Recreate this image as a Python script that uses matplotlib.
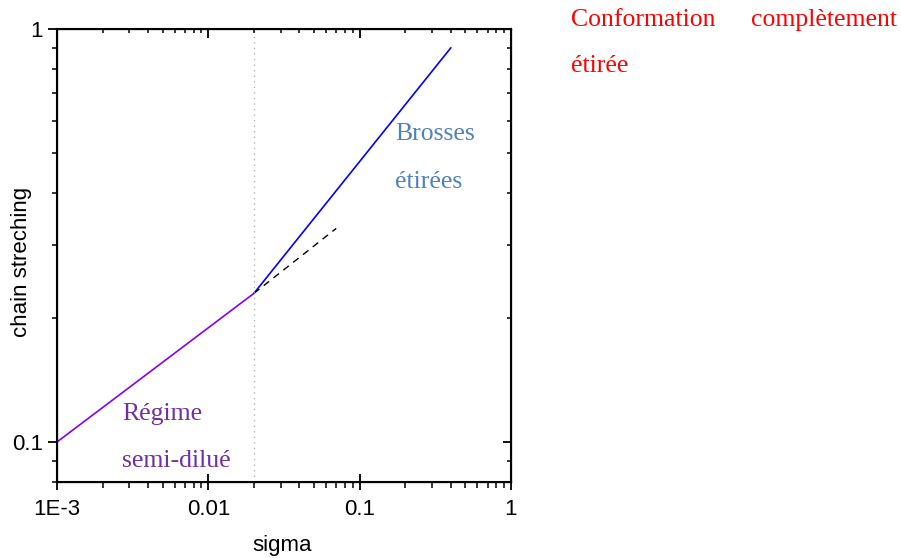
import matplotlib
matplotlib.use("Agg")
import matplotlib.pyplot as plt

regime_x = [1e-3, 0.02]
regime_y = [0.1, 0.229]
brush_x = [0.02, 0.4]
brush_y = [0.229, 0.9]
ext_x = [0.02, 0.07]
ext_y = [0.229, 0.329]
sigma_star = 0.02

xticks = [1e-3, 0.01, 0.1, 1]
xticklabels = ["1E-3", "0.01", "0.1", "1"]
yticks = [0.1, 1]
yticklabels = ["0.1", "1"]

plt.rcParams['font.family'] = ['Liberation Sans', 'DejaVu Sans']

fig = plt.figure(figsize=(9.01, 5.58), dpi=100)
ax = fig.add_axes([57/901, 1-482/558, (511-57)/901, (482-29)/558])

ax.plot(regime_x, regime_y, color="#8000ff", lw=1.2)
ax.plot(brush_x, brush_y, color="#0000ff", lw=1.2)
ax.plot(ext_x, ext_y, color="black", lw=1.0, ls=(0, (5, 4)))
ax.axvline(sigma_star, color="#b4b4b4", lw=1.0, ls=(0, (1, 3)))

ax.set_xscale("log")
ax.set_yscale("log")
ax.set_xlim(1e-3, 1)
ax.set_ylim(0.08, 1)
ax.set_xticks(xticks, xticklabels)
ax.set_yticks(yticks, yticklabels)
ax.tick_params(labelsize=16, width=1.3)
ax.tick_params(axis="x", which="major", direction="inout", length=12, pad=6)
ax.tick_params(axis="x", which="minor", direction="out", length=4, width=1.1)
ax.tick_params(axis="y", which="major", direction="out", length=6.5)
ax.tick_params(axis="y", which="minor", direction="out", length=3.6, width=1.1)
for s in ax.spines.values():
    s.set_linewidth(1.5)

# top and right ticks point inward
axt = ax.twiny()
axt.set_xscale("log")
axt.set_xlim(ax.get_xlim())
axt.set_xticks(xticks)
axt.tick_params(axis="x", which="major", direction="in", length=6.5, width=1.3, labeltop=False)
axt.tick_params(axis="x", which="minor", direction="in", length=3, width=1.1)
axr = ax.twinx()
axr.set_yscale("log")
axr.set_ylim(ax.get_ylim())
axr.set_yticks(yticks)
axr.tick_params(axis="y", which="major", direction="in", length=6, width=1.3, labelright=False)
axr.tick_params(axis="y", which="minor", direction="in", length=3, width=1.1)

fig.text(22/901, 1-262/558, "chain streching", rotation=90, fontsize=16, ha="center", va="center")
fig.text(282/901, 1-545/558, "sigma", fontsize=16, ha="center", va="center")

serif = ['Liberation Serif', 'DejaVu Serif']
fig.text(122/901, 1-414/558, "Régime", fontsize=18.5, color="#7030a0", family=serif, va="center")
fig.text(122/901, 1-461/558, "semi-dilué", fontsize=18.5, color="#7030a0", family=serif, va="center")
fig.text(395/901, 1-134/558, "Brosses", fontsize=18.5, color="#4f81bd", family=serif, va="center")
fig.text(395/901, 1-182/558, "étirées", fontsize=18.5, color="#4f81bd", family=serif, va="center")
fig.text(571/901, 1-20/558, "Conformation", fontsize=18.5, color="red", family=serif, va="center")
fig.text(897/901, 1-20/558, "complètement", fontsize=18.5, color="red", family=serif, va="center", ha="right")
fig.text(571/901, 1-66/558, "étirée", fontsize=18.5, color="red", family=serif, va="center")

fig.savefig("out.png", dpi=100)
